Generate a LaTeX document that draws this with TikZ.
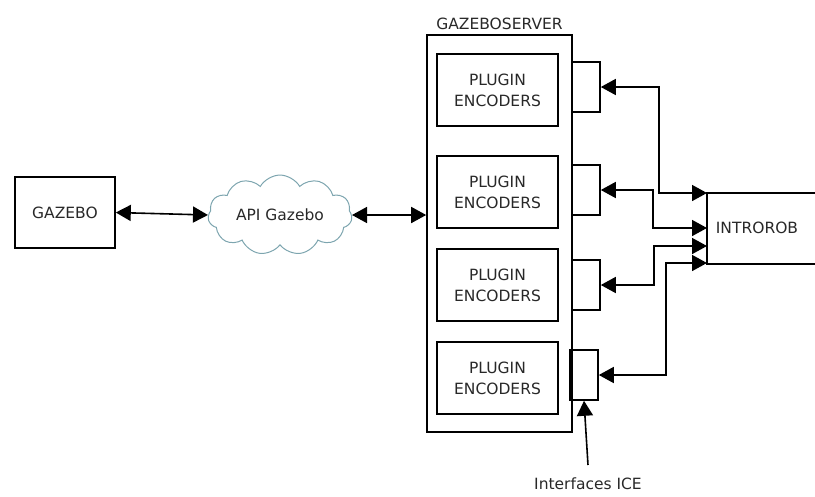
\documentclass[tikz,border=0pt]{standalone}
\usepackage{fontspec}
\setmainfont{DejaVu Sans}
\usetikzlibrary{arrows.meta, positioning, shapes.symbols}
\definecolor{txtgray}{RGB}{40,40,40}
\definecolor{cloudline}{RGB}{125,165,175}

\begin{document}
\begin{tikzpicture}[x=1pt, y=-1pt, line width=1.6pt, line cap=butt,
	>={Triangle[length=15pt,width=16pt]},
	font=\fontsize{15.5}{21}\selectfont, text=txtgray,
	box/.style={draw=black, inner sep=0pt},
	plugbox/.style={box, minimum width=121pt, minimum height=72pt, align=center},
	ifbox/.style={box, minimum width=28pt, minimum height=50pt},
	link/.style={<->, black}]
	
	\useasboundingbox (0,0) rectangle (815,496);
	
	%========================
	% Left: simulator and API
	%========================
	\node[box, minimum width=100pt, minimum height=71pt] (gazebo) at (65,212.5) {GAZEBO};
	\node[cloud, draw=cloudline, line width=1pt, cloud puffs=11, cloud puff arc=120,
		aspect=2, minimum width=144pt, minimum height=74pt, inner sep=0pt] (api) at (280,215) {API Gazebo};
	
	%========================
	% Middle: gazeboserver with plugins
	%========================
	\node[box, minimum width=145pt, minimum height=397pt] (server) at (499.5,233.5) {};
	\node[above] at (server.north) {GAZEBOSERVER};
	
	\node[plugbox] (plug1) at (497.5,90) {PLUGIN\\ENCODERS};
	\node[plugbox] (plug2) at (497.5,192) {PLUGIN\\ENCODERS};
	\node[plugbox] (plug3) at (497.5,285) {PLUGIN\\ENCODERS};
	\node[plugbox] (plug4) at (497.5,378) {PLUGIN\\ENCODERS};
	
	% ICE interfaces
	\node[ifbox] (if1) at (586,87) {};
	\node[ifbox] (if2) at (586,190) {};
	\node[ifbox] (if3) at (586,285) {};
	\node[ifbox] (if4) at (584,375) {};
	\node (ice) at (588,484) {Interfaces ICE};
	\coordinate (icetail) at (588,465);
	
	%========================
	% Right: introrob
	%========================
	\coordinate (rtop) at (707,193);
	\coordinate (rbot) at (707,264);
	\draw (815,193) -- (rtop) -- (rbot) -- (815,264);
	\node (introrob) at (757,228) {INTROROB};
	\coordinate (in1) at (707,193);
	\coordinate (in2) at (707,228);
	\coordinate (in3) at (707,246);
	\coordinate (in4) at (707,263);
	
	% connections
	\draw[link] (gazebo.east) -- (api.west);
	\draw[link] (api.east) -- (server.west |- api.east);
	\draw[link] (if1.east) -| (659,193) -- (in1);
	\draw[link] (if2.east) -| (653,228) -- (in2);
	\draw[link] (if3.east) -| (654,246) -- (in3);
	\draw[link] (if4.east) -| (666,263) -- (in4);
	\draw[->] (icetail) -- (if4.south);
	
\end{tikzpicture}
\end{document}
